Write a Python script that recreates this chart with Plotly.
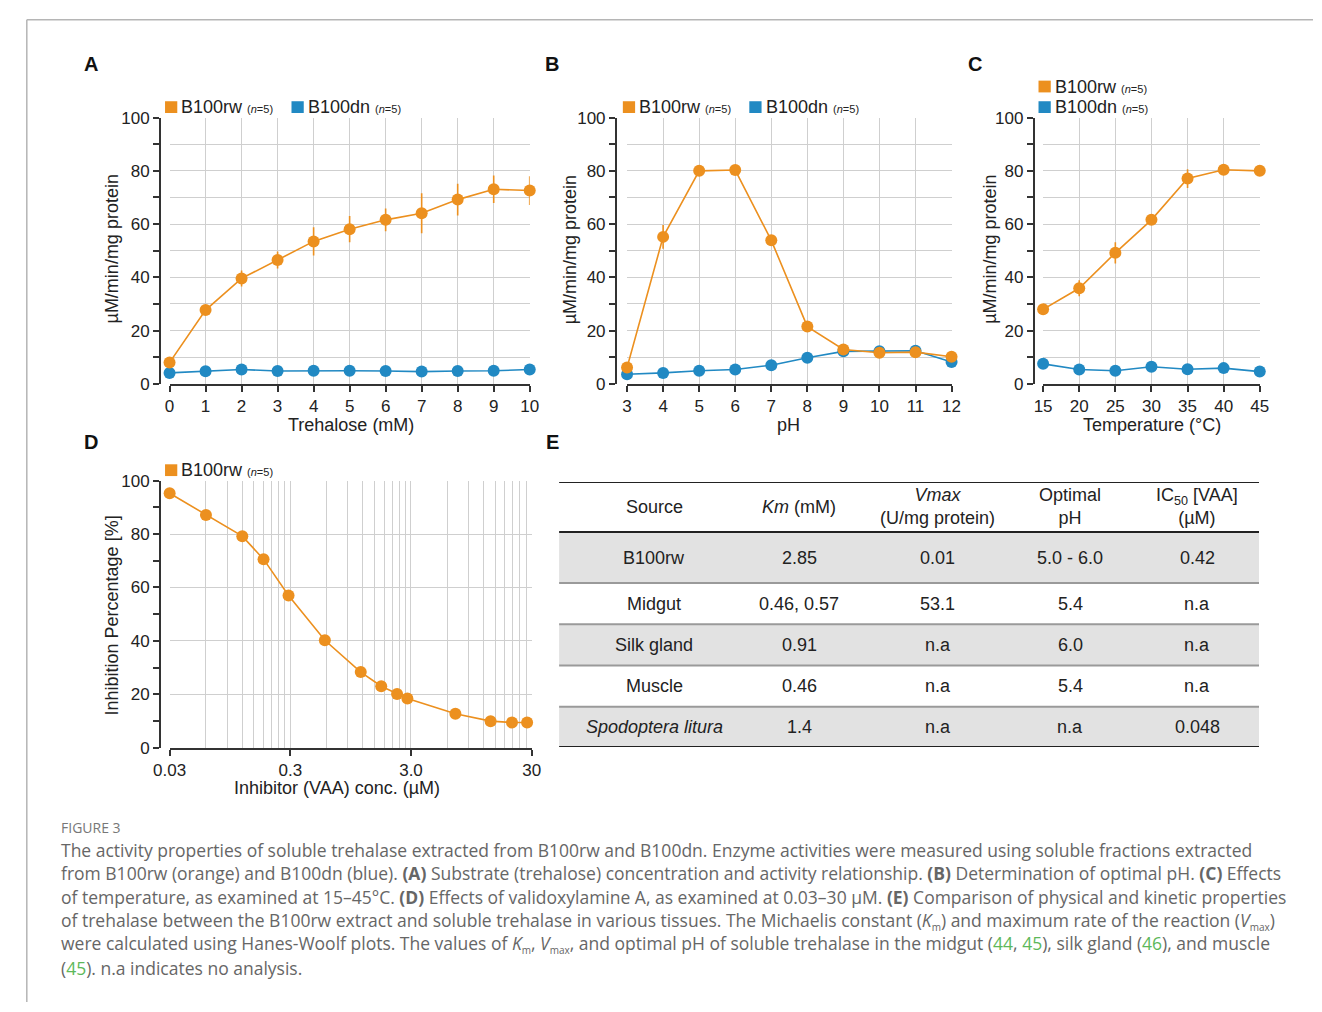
import math
import plotly.graph_objects as go

W, H = 1322, 1012
FONT = "Liberation Sans, Arial, sans-serif"
ORANGE = "#EC901F"
BLUE = "#2189C3"
DARK = "#222222"
GRID = "#cfcfcf"

# ---------------- data ----------------
trehalose_mM = [0, 1, 2, 3, 4, 5, 6, 7, 8, 9, 10]
A_rw = [8.0, 27.7, 39.6, 46.5, 53.5, 58.1, 61.6, 64.1, 69.2, 73.1, 72.6]
A_rw_err = [0.5, 1.0, 3.0, 3.2, 5.3, 4.9, 4.3, 7.5, 6.0, 5.2, 5.4]
A_dn = [4.1, 4.7, 5.4, 4.8, 4.9, 4.9, 4.8, 4.6, 4.8, 4.9, 5.4]

pH_vals = [3, 4, 5, 6, 7, 8, 9, 10, 11, 12]
B_rw = [6.1, 55.2, 80.0, 80.3, 53.9, 21.5, 12.9, 11.7, 11.9, 10.2]
B_rw_err = [0.5, 4.5, 1.0, 1.0, 1.0, 0.8, 0.5, 0.5, 0.5, 0.5]
B_dn = [3.6, 4.1, 4.9, 5.4, 7.0, 9.8, 12.2, 12.2, 12.4, 8.2]

temperature_C = [15, 20, 25, 30, 35, 40, 45]
C_rw = [28.0, 35.9, 49.2, 61.6, 77.1, 80.4, 80.0]
C_rw_err = [0.5, 3.0, 4.0, 1.0, 3.5, 1.0, 0.5]
C_dn = [7.5, 5.4, 4.9, 6.4, 5.5, 5.9, 4.6]

vaa_uM = [0.03, 0.06, 0.12, 0.18, 0.29, 0.58, 1.15, 1.7, 2.3, 2.8, 7.0, 13.7, 20.6, 27.5]
D_inhib = [95.3, 87.1, 79.2, 70.6, 57.0, 40.2, 28.3, 23.0, 20.1, 18.4, 12.7, 9.9, 9.4, 9.4]
D_major_ticks = [0.03, 0.3, 3.0, 30]
D_major_text = ["0.03", "0.3", "3.0", "30"]

table_header = ["Source", "<i>Km</i> (mM)", "<i>Vmax</i><br>(U/mg protein)",
                "Optimal<br>pH", "IC<sub>50</sub> [VAA]<br>(µM)"]
table_source = ["B100rw", "Midgut", "Silk gland", "Muscle", "<i>Spodoptera litura</i>"]
table_km = ["2.85", "0.46, 0.57", "0.91", "0.46", "1.4"]
table_vmax = ["0.01", "53.1", "n.a", "n.a", "n.a"]
table_ph = ["5.0 - 6.0", "5.4", "6.0", "5.4", "n.a"]
table_ic50 = ["0.42", "n.a", "n.a", "n.a", "0.048"]

GREEN = "#5DB85A"
def g(s):
    return f"<span style='color:{GREEN}'>{s}</span>"

def sub(s):
    return f"<sub><span style='font-size:10px'>{s}</span></sub>"

KM = "<i>K</i>" + sub("m")
VMAX = "<i>V</i>" + sub("max")

caption_label = "FIGURE 3"
caption_lines = [
    "The activity properties of soluble trehalase extracted from B100rw and B100dn. Enzyme activities were measured using soluble fractions extracted",
    "from B100rw (orange) and B100dn (blue). <b>(A)</b> Substrate (trehalose) concentration and activity relationship. <b>(B)</b> Determination of optimal pH. <b>(C)</b> Effects",
    "of temperature, as examined at 15–45°C. <b>(D)</b> Effects of validoxylamine A, as examined at 0.03–30 µM. <b>(E)</b> Comparison of physical and kinetic properties",
    "of trehalase between the B100rw extract and soluble trehalase in various tissues. The Michaelis constant (" + KM + ") and maximum rate of the reaction (" + VMAX + ")",
    "were calculated using Hanes-Woolf plots. The values of " + KM + ", " + VMAX + ", and optimal pH of soluble trehalase in the midgut (" + g("44") + ", " + g("45") + "), silk gland (" + g("46") + "), and muscle",
    "(" + g("45") + "). n.a indicates no analysis.",
]

# ---------------- helpers ----------------
def px(x):
    return x / W

def py(y):
    return 1 - y / H

fig = go.Figure()

def add_series(x, y, color, xa, ya, err=None):
    kw = {}
    if err is not None:
        kw["error_y"] = dict(type="data", array=err, width=0, thickness=1.6, color=color)
    fig.add_trace(go.Scatter(x=x, y=y, mode="lines+markers", xaxis=xa, yaxis=ya,
                             line=dict(color=color, width=1.6),
                             marker=dict(color=color, size=12),
                             cliponaxis=False, showlegend=False, **kw))

add_series(trehalose_mM, A_dn, BLUE, "x", "y")
add_series(trehalose_mM, A_rw, ORANGE, "x", "y", A_rw_err)
add_series(pH_vals, B_dn, BLUE, "x2", "y2")
add_series(pH_vals, B_rw, ORANGE, "x2", "y2", B_rw_err)
add_series(temperature_C, C_dn, BLUE, "x3", "y3")
add_series(temperature_C, C_rw, ORANGE, "x3", "y3", C_rw_err)
add_series(vaa_uM, D_inhib, ORANGE, "x4", "y4")

tickfont = dict(family=FONT, size=17, color=DARK)

def xaxis_common(domain, rng, anchor, **extra):
    d = dict(domain=[px(domain[0]), px(domain[1])], range=rng, anchor=anchor,
             showline=True, linecolor="#333", linewidth=2, ticks="outside",
             ticklen=6, tickwidth=1.6, tickcolor="#333", tickfont=tickfont,
             showgrid=True, gridcolor=GRID, gridwidth=1.2, zeroline=False)
    d.update(extra)
    return d

def yaxis_common(domain, pos, grid10=True):
    return dict(domain=[py(domain[1]), py(domain[0])], range=[0, 100], anchor="free",
                position=px(pos), showline=True, linecolor="#333", linewidth=2,
                ticks="outside", ticklen=6, tickwidth=1.6, tickcolor="#333",
                tickfont=tickfont, dtick=20, tick0=0, showgrid=True, gridcolor=GRID,
                gridwidth=1.2, zeroline=False,
                minor=dict(dtick=10, tick0=0, ticks="outside", ticklen=6, tickwidth=1.6,
                           tickcolor="#333", showgrid=grid10, gridcolor=GRID, gridwidth=1.2))

TOP, BOT = 110.7, 382.0
d_lo = math.log10(min(D_major_ticks)) - 1e-6
d_hi = math.log10(max(D_major_ticks)) + 1e-6
layout = dict(
    width=W, height=H, margin=dict(l=0, r=0, t=0, b=0),
    paper_bgcolor="white", plot_bgcolor="white",
    font=dict(family=FONT, color=DARK),
    xaxis=xaxis_common((155.6, 523.0), [0, 10], "y", dtick=1, tick0=0),
    yaxis=yaxis_common((TOP, BOT), 146),
    xaxis2=xaxis_common((622.3, 953.3), [3, 12], "y2", dtick=1, tick0=3),
    yaxis2=yaxis_common((TOP, BOT), 611),
    xaxis3=xaxis_common((1046.7, 1267.7), [15, 45], "y3", dtick=5, tick0=15),
    yaxis3=yaxis_common((TOP, BOT), 1037.3),
    xaxis4=xaxis_common((155.7, 525.0), [d_lo, d_hi], "y4", type="log",
                        tickmode="array", tickvals=D_major_ticks, ticktext=D_major_text,
                        minor=dict(tickmode="array",
                                   tickvals=[m * k for m in (0.03, 0.3, 3.0) for k in range(2, 10)],
                                   ticks="", showgrid=True, gridcolor=GRID, gridwidth=1.2)),
    yaxis4=yaxis_common((480.7, 752.7), 146, grid10=False),
    xaxis5=dict(domain=[px(553), px(1267)], range=[0, 1], visible=False, anchor="y5"),
    yaxis5=dict(domain=[py(752), py(482)], range=[270, 0], visible=False, anchor="x5"),
)
fig.update_layout(**layout)

ann = []
shapes = []

# panel letters
for letter, (x, y) in {"A": (75, 56), "B": (546, 56), "C": (977, 56),
                       "D": (75, 441), "E": (546, 441)}.items():
    ann.append(dict(x=px(x), y=py(y), xref="paper", yref="paper", text=f"<b>{letter}</b>",
                    showarrow=False, font=dict(family=FONT, size=20, color="#111"),
                    xanchor="center", yanchor="middle"))

# axis titles
ytitle = "µM/min/mg protein"
for x, y, t in [(97, 245, ytitle), (565, 245, ytitle), (993, 245, ytitle),
                (97, 618, "Inhibition Percentage [%]")]:
    ann.append(dict(x=px(x), y=py(y), xref="paper", yref="paper", text=t, textangle=-90,
                    showarrow=False, font=dict(family=FONT, size=18, color=DARK),
                    xanchor="center", yanchor="middle"))
for x, y, t in [(341, 424, "Trehalose (mM)"), (787, 424, "pH"),
                (1158, 424, "Temperature (°C)"), (326, 794, "Inhibitor (VAA) conc. (µM)")]:
    ann.append(dict(x=px(x), y=py(y), xref="paper", yref="paper", text=t,
                    showarrow=False, font=dict(family=FONT, size=18, color=DARK),
                    xanchor="center", yanchor="middle"))

# legends (square + text)
legend_items = [
    (151, 100, ORANGE, "B100rw"), (280, 100, BLUE, "B100dn"),
    (618, 100, ORANGE, "B100rw"), (747, 100, BLUE, "B100dn"),
    (1042, 79, ORANGE, "B100rw"), (1042, 100, BLUE, "B100dn"),
    (151, 470, ORANGE, "B100rw"),
]
for x, y, col, name in legend_items:
    shapes.append(dict(type="rect", xref="paper", yref="paper",
                       x0=px(x), x1=px(x + 12.5), y0=py(y + 6), y1=py(y - 6),
                       fillcolor=col, line=dict(width=0)))
    ann.append(dict(x=px(x + 14.5), y=py(y), xref="paper", yref="paper",
                    text=f"{name} <span style='font-size:11px'>(<i>n</i>=5)</span>",
                    showarrow=False, font=dict(family=FONT, size=18, color=DARK),
                    xanchor="left", yanchor="middle"))

# ---------------- table E ----------------
row_heights = [51, 52, 42, 42, 42, 41]
col_centers = [0.136, 0.343, 0.541, 0.730, 0.912]
bounds = [0]
for h in row_heights:
    bounds.append(bounds[-1] + h)
rows = list(zip(table_source, table_km, table_vmax, table_ph, table_ic50))
for i, row in enumerate(rows):
    y0, y1 = bounds[i + 1], bounds[i + 2]
    if i % 2 == 0:
        shapes.append(dict(type="rect", xref="x5", yref="y5", x0=0, x1=1, y0=y0, y1=y1,
                           fillcolor="#e2e2e2", line=dict(width=0), layer="below"))
    for c, val in zip(col_centers, row):
        ann.append(dict(x=c, y=(y0 + y1) / 2, xref="x5", yref="y5", text=val,
                        showarrow=False, font=dict(family=FONT, size=18, color=DARK),
                        xanchor="center", yanchor="middle"))
for c, val in zip(col_centers, table_header):
    ann.append(dict(x=c, y=(bounds[0] + bounds[1]) / 2, xref="x5", yref="y5", text=val,
                    showarrow=False, font=dict(family=FONT, size=18, color=DARK),
                    xanchor="center", yanchor="middle"))
for j, b in enumerate(bounds):
    thick = j in (0, 1, len(bounds) - 1)
    shapes.append(dict(type="line", xref="x5", yref="y5", x0=0, x1=1, y0=b, y1=b,
                       line=dict(color="#222" if thick else "#9a9a9a", width=2)))

# ---------------- caption ----------------
CAP_FONT = "Open Sans, Lato, sans-serif"
ann.append(dict(x=px(43), y=py(834), xref="paper", yref="paper", text=caption_label,
                showarrow=False, font=dict(family=CAP_FONT, size=14, color="#777"),
                xanchor="left", yanchor="middle"))
for i, line in enumerate(caption_lines):
    ann.append(dict(x=px(43), y=py(857 + 24 * i), xref="paper", yref="paper", text=line,
                    showarrow=False, font=dict(family=CAP_FONT, size=17.5, color="#666"),
                    xanchor="left", yanchor="middle"))

# frame
shapes.append(dict(type="line", xref="paper", yref="paper", x0=px(10), x1=1, y0=py(11), y1=py(11),
                   line=dict(color="#b5b5b5", width=1.5)))
shapes.append(dict(type="line", xref="paper", yref="paper", x0=px(10), x1=px(10), y0=py(11), y1=0,
                   line=dict(color="#b5b5b5", width=1.5)))

fig.update_layout(annotations=ann, shapes=shapes)
fig.write_html("out.html")
